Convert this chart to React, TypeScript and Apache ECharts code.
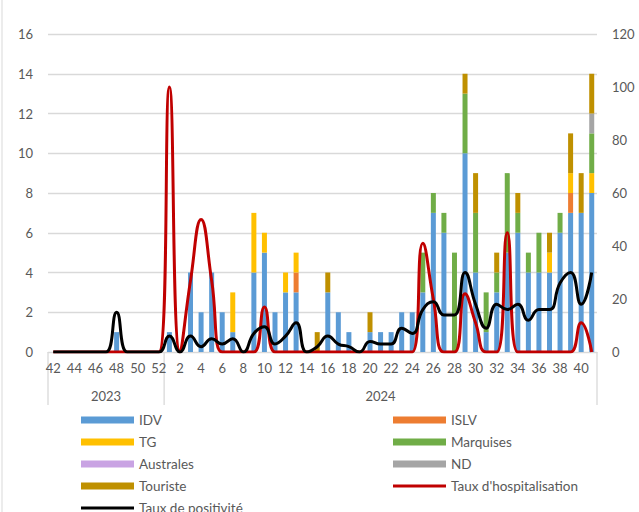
import React, { useEffect, useRef } from "react";
import * as echarts from "echarts";

const weeks = [
  "42", "43", "44", "45", "46", "47", "48", "49", "50", "51", "52",
  "1", "2", "3", "4", "5", "6", "7", "8", "9", "10",
  "11", "12", "13", "14", "15", "16", "17", "18", "19", "20",
  "21", "22", "23", "24", "25", "26", "27", "28", "29", "30",
  "31", "32", "33", "34", "35", "36", "37", "38", "39", "40", "41",
];
const yearGroups = [
  { year: "2023", count: 11 },
  { year: "2024", count: 41 },
];

// 2023 wk42..52 | 2024 wk1..41
const idv = [
  0, 0, 0, 0, 0, 0, 1, 0, 0, 0, 0,
  1, 0, 4, 2, 4, 2, 1, 0, 4, 5,
  2, 3, 3, 0, 0, 3, 2, 1, 0, 1,
  1, 1, 2, 2, 3, 7, 6, 0, 10, 4,
  1, 3, 5, 6, 4, 4, 4, 6, 7, 7, 8,
];
const islv = [
  0, 0, 0, 0, 0, 0, 0, 0, 0, 0, 0,
  0, 0, 0, 0, 0, 0, 0, 0, 0, 0,
  0, 0, 1, 0, 0, 0, 0, 0, 0, 0,
  0, 0, 0, 0, 0, 0, 0, 0, 0, 0,
  0, 0, 0, 0, 0, 0, 0, 0, 1, 0, 0,
];
const tg = [
  0, 0, 0, 0, 0, 0, 0, 0, 0, 0, 0,
  0, 0, 0, 0, 0, 0, 2, 0, 3, 1,
  0, 1, 1, 0, 0, 0, 0, 0, 0, 0,
  0, 0, 0, 0, 0, 0, 0, 0, 0, 0,
  0, 0, 0, 0, 0, 0, 1, 0, 1, 0, 1,
];
const marquises = [
  0, 0, 0, 0, 0, 0, 0, 0, 0, 0, 0,
  0, 0, 0, 0, 0, 0, 0, 0, 0, 0,
  0, 0, 0, 0, 0, 0, 0, 0, 0, 0,
  0, 0, 0, 0, 2, 1, 1, 5, 3, 3,
  2, 1, 4, 1, 1, 2, 0, 1, 0, 0, 2,
];
const australes = [
  0, 0, 0, 0, 0, 0, 0, 0, 0, 0, 0,
  0, 0, 0, 0, 0, 0, 0, 0, 0, 0,
  0, 0, 0, 0, 0, 0, 0, 0, 0, 0,
  0, 0, 0, 0, 0, 0, 0, 0, 0, 0,
  0, 0, 0, 0, 0, 0, 0, 0, 0, 0, 0,
];
const nd = [
  0, 0, 0, 0, 0, 0, 0, 0, 0, 0, 0,
  0, 0, 0, 0, 0, 0, 0, 0, 0, 0,
  0, 0, 0, 0, 0, 0, 0, 0, 0, 0,
  0, 0, 0, 0, 0, 0, 0, 0, 0, 0,
  0, 0, 0, 0, 0, 0, 0, 0, 0, 0, 1,
];
const touriste = [
  0, 0, 0, 0, 0, 0, 0, 0, 0, 0, 0,
  0, 0, 0, 0, 0, 0, 0, 0, 0, 0,
  0, 0, 0, 0, 1, 1, 0, 0, 0, 1,
  0, 0, 0, 0, 0, 0, 0, 0, 1, 2,
  0, 1, 0, 1, 0, 0, 1, 0, 2, 2, 2,
];
const tauxHosp = [
  0, 0, 0, 0, 0, 0, 0, 0, 0, 0, 0,
  100, 0, 27, 50, 27, 0, 0, 0, 0, 17,
  0, 0, 0, 0, 0, 0, 0, 0, 0, 0,
  0, 0, 0, 0, 41, 20, 0, 0, 22, 11,
  0, 0, 45, 0, 0, 0, 0, 0, 0, 11, 0,
];
const tauxPos = [
  0, 0, 0, 0, 0, 0, 15, 0, 0, 0, 0,
  6, 0, 6, 2, 5, 3, 5, 0, 7, 9.5,
  3, 6, 11, 0, 2, 6, 3, 2, 0, 4,
  3, 3, 9, 7, 16, 19, 14, 14, 30, 18,
  9, 18, 16, 18, 12, 16, 16, 26, 30, 18, 30,
];

const leftTicks = { min: 0, max: 16, interval: 2 };
const rightTicks = { min: 0, max: 120, interval: 20 };

const FONT = "Lato";
const TXT = "#595959";
const GRID = "#d9d9d9";
const LINE_ICON = "path://M0,0M0,7M0,2L53,2L53,5L0,5Z";

const barSeries = [
  { name: "IDV", data: idv, color: "#5B9BD5" },
  { name: "ISLV", data: islv, color: "#ED7D31" },
  { name: "TG", data: tg, color: "#FFC000" },
  { name: "Marquises", data: marquises, color: "#70AD47" },
  { name: "Australes", data: australes, color: "#C9A3E3" },
  { name: "ND", data: nd, color: "#A5A5A5" },
  { name: "Touriste", data: touriste, color: "#BF9000" },
];

export default function App() {
  const ref = useRef<HTMLDivElement>(null);
  useEffect(() => {
    const chart = echarts.init(ref.current!, null, { renderer: "svg" });
    const legendText = { color: TXT, fontFamily: FONT, fontSize: 13.5 };
    const legendBase = {
      top: 413, height: 110, orient: "vertical", itemWidth: 53, itemHeight: 7, itemGap: 8,
      padding: 0, textStyle: legendText, selectedMode: false,
    };
    const option: any = {
      animation: false,
      backgroundColor: "#fff",
      grid: { left: 48, right: 42, top: 34, bottom: 160, containLabel: false },
      legend: [
        {
          ...legendBase, left: 81,
          data: [
            { name: "IDV", icon: "rect" },
            { name: "TG", icon: "rect" },
            { name: "Australes", icon: "rect" },
            { name: "Touriste", icon: "rect" },
            { name: "Taux de positivité", icon: LINE_ICON },
          ],
        },
        {
          ...legendBase, left: 393,
          data: [
            { name: "ISLV", icon: "rect" },
            { name: "Marquises", icon: "rect" },
            { name: "ND", icon: "rect" },
            { name: "Taux d'hospitalisation", icon: LINE_ICON },
          ],
        },
      ],
      xAxis: {
        type: "category",
        data: weeks,
        axisLine: { show: true, lineStyle: { color: GRID, width: 1 } },
        axisTick: { show: false },
        axisLabel: { interval: 1, color: TXT, fontFamily: FONT, fontSize: 13, margin: 9 },
      },
      yAxis: [
        {
          type: "value", ...leftTicks,
          axisLine: { show: false }, axisTick: { show: false },
          axisLabel: { color: TXT, fontFamily: FONT, fontSize: 13, margin: 15 },
          splitLine: { lineStyle: { color: GRID, width: 1.3 } },
        },
        {
          type: "value", ...rightTicks, position: "right",
          axisLine: { show: false }, axisTick: { show: false },
          axisLabel: { color: TXT, fontFamily: FONT, fontSize: 13, margin: 15 },
          splitLine: { show: false },
        },
      ],
      series: [
        ...barSeries.map((s) => ({
          name: s.name, type: "bar", stack: "cas", data: s.data, barWidth: 5,
          itemStyle: { color: s.color },
        })),
        {
          name: "Taux d'hospitalisation", type: "line", yAxisIndex: 1, data: tauxHosp,
          smooth: 0.5, showSymbol: false, lineStyle: { color: "#C00000", width: 3 },
          itemStyle: { color: "#C00000" }, z: 5,
        },
        {
          name: "Taux de positivité", type: "line", yAxisIndex: 1, data: tauxPos,
          smooth: 0.5, showSymbol: false, lineStyle: { color: "#000", width: 3 },
          itemStyle: { color: "#000" }, z: 6,
        },
      ],
    };
    chart.setOption(option);

    const c0 = chart.convertToPixel({ xAxisIndex: 0 }, 0) as number;
    const c1 = chart.convertToPixel({ xAxisIndex: 0 }, 1) as number;
    const band = c1 - c0;
    const yBase = chart.convertToPixel({ yAxisIndex: 0 }, 0) as number;
    const graphics: any[] = [];
    let start = 0;
    const boundary = (i: number) => c0 - band / 2 + i * band;
    graphics.push({
      type: "line", shape: { x1: boundary(0), y1: yBase, x2: boundary(0), y2: yBase + 53 },
      style: { stroke: GRID, lineWidth: 1.3 },
    });
    yearGroups.forEach((g) => {
      const end = start + g.count;
      graphics.push({
        type: "line", shape: { x1: boundary(end), y1: yBase, x2: boundary(end), y2: yBase + 53 },
        style: { stroke: GRID, lineWidth: 1.3 },
      });
      graphics.push({
        type: "text", x: (boundary(start) + boundary(end)) / 2, y: yBase + 44,
        style: { text: g.year, fill: TXT, font: `13px ${FONT}`, textAlign: "center", textVerticalAlign: "middle" },
      });
      start = end;
    });
    graphics.push({
      type: "line", shape: { x1: 2, y1: 0, x2: 2, y2: 512 },
      style: { stroke: GRID, lineWidth: 1 },
    });
    chart.setOption({ graphic: graphics });
    return () => chart.dispose();
  }, []);
  return <div ref={ref} style={{ position: "absolute", left: 0, top: 0, width: 639, height: 512 }} />;
}
